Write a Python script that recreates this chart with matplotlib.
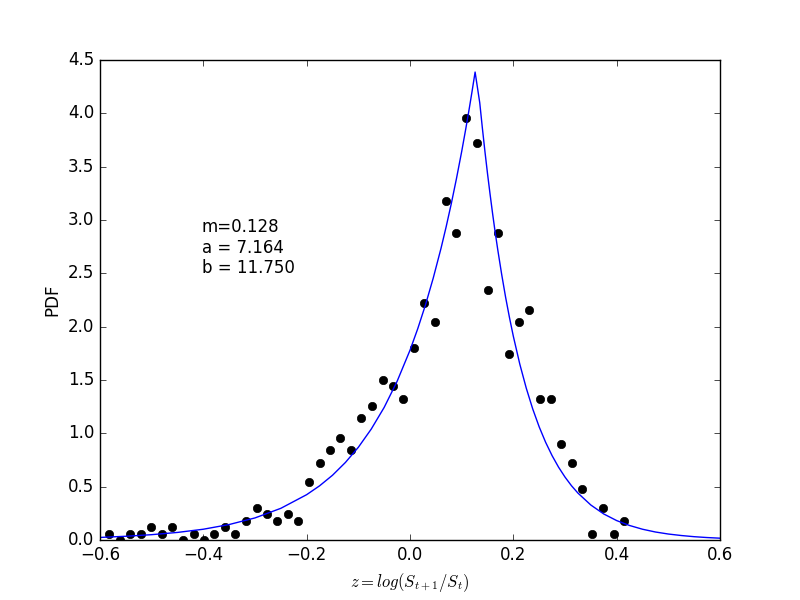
import matplotlib
matplotlib.use('Agg')
import matplotlib.pyplot as plt

# histogram points (bin centres, density)
z_bins = [-0.582, -0.562, -0.541, -0.521, -0.501, -0.480, -0.460, -0.440, -0.419, -0.399,
          -0.379, -0.358, -0.338, -0.318, -0.297, -0.277, -0.257, -0.236, -0.216, -0.196,
          -0.175, -0.155, -0.135, -0.114, -0.094, -0.074, -0.053, -0.033, -0.013, 0.008,
          0.028, 0.048, 0.069, 0.089, 0.109, 0.130, 0.150, 0.170, 0.191, 0.211,
          0.231, 0.252, 0.272, 0.292, 0.313, 0.333, 0.353, 0.374, 0.394, 0.414]
pdf_emp = [0.06, 0.00, 0.06, 0.06, 0.12, 0.06, 0.12, 0.00, 0.06, 0.00,
           0.06, 0.12, 0.06, 0.18, 0.30, 0.24, 0.18, 0.24, 0.18, 0.54,
           0.72, 0.84, 0.96, 0.84, 1.14, 1.26, 1.50, 1.44, 1.32, 1.80,
           2.22, 2.04, 3.18, 2.88, 3.96, 3.72, 2.34, 2.88, 1.74, 2.04,
           2.16, 1.32, 1.32, 0.90, 0.72, 0.48, 0.06, 0.30, 0.06, 0.18]

# fitted curve
z_fit = [-0.60, -0.55, -0.50, -0.45, -0.40, -0.35, -0.30, -0.25, -0.20, -0.175,
         -0.15, -0.125, -0.10, -0.075, -0.05, -0.025, 0.0, 0.015, 0.03, 0.045,
         0.06, 0.07, 0.08, 0.09, 0.10, 0.108, 0.115, 0.12, 0.126,
         0.135, 0.14, 0.145, 0.15, 0.155, 0.16, 0.165, 0.17, 0.1775, 0.185,
         0.1925, 0.20, 0.2125, 0.225, 0.2375, 0.25, 0.2625, 0.275, 0.2875, 0.30,
         0.3125, 0.325, 0.35, 0.375, 0.40, 0.425, 0.45, 0.475, 0.50, 0.525,
         0.55, 0.575, 0.60]
pdf_fit = [0.024, 0.035, 0.050, 0.071, 0.101, 0.145, 0.207, 0.297, 0.425, 0.508,
           0.607, 0.727, 0.869, 1.040, 1.243, 1.487, 1.779, 1.981, 2.205, 2.456,
           2.734, 2.937, 3.155, 3.390, 3.641, 3.856, 4.054, 4.202, 4.387,
           4.099, 3.865, 3.644, 3.436, 3.241, 3.055, 2.880, 2.717, 2.488, 2.277,
           2.086, 1.910, 1.649, 1.424, 1.229, 1.061, 0.916, 0.791, 0.683, 0.590,
           0.509, 0.440, 0.328, 0.244, 0.182, 0.136, 0.101, 0.075, 0.056, 0.042,
           0.031, 0.023, 0.017]

m, a, b = 0.128, 7.164, 11.750

plt.style.use('classic')
fig = plt.figure(figsize=(8, 6), dpi=100)
ax = fig.add_subplot(111)
ax.plot(z_bins, pdf_emp, 'ko')
ax.plot(z_fit, pdf_fit, 'b-')
ax.text(-0.403, 2.5, 'm=%.3f\na = %.3f\nb = %.3f' % (m, a, b))
ax.set_xlim(-0.6, 0.6)
ax.set_ylim(0, 4.5)
ax.set_xlabel(r'$z=log(S_{t+1}/S_t)$')
ax.set_ylabel('PDF')
fig.savefig('out.png', dpi=100, facecolor='white')
